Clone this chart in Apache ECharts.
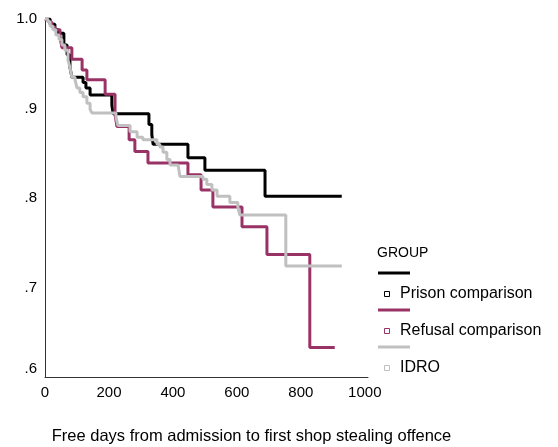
<!DOCTYPE html>
<html>
<head>
<meta charset="utf-8">
<script src="https://cdn.jsdelivr.net/npm/echarts@6/dist/echarts.min.js"></script>
<style>
	html, body { margin: 0; padding: 0; background: #fff; }
	#chart { width: 558px; height: 447px; }
</style>
</head>
<body>
<div id="chart"></div>
<script>
// 分组名称
var groupNames = ['Prison comparison', 'Refusal comparison', 'IDRO'];
var groupColors = ['#000000', '#993366', '#c0c0c0'];

// Kaplan-Meier 数据 [天数, 生存率]
var prisonData = [
	[0, 1.0], [16, 0.994], [31, 0.988], [41, 0.984], [59, 0.971], [69, 0.960],
	[78, 0.946], [84, 0.935], [119, 0.929], [128, 0.923], [141, 0.915],
	[209, 0.904], [213, 0.894], [325, 0.882], [334, 0.871], [338, 0.860],
	[447, 0.845], [500, 0.831], [688, 0.802], [928, 0.802]
];
var refusalData = [
	[0, 1.0], [6, 0.998], [9, 0.996], [22, 0.991], [31, 0.988], [47, 0.980],
	[53, 0.968], [84, 0.955], [116, 0.943], [131, 0.932], [188, 0.916],
	[219, 0.893], [225, 0.880], [263, 0.865], [281, 0.852], [322, 0.839],
	[447, 0.826], [488, 0.809], [525, 0.790], [616, 0.768], [694, 0.737],
	[828, 0.633], [906, 0.633]
];
var idroData = [
	[0, 1.0], [9, 0.997], [16, 0.992], [25, 0.988], [34, 0.982], [44, 0.977],
	[53, 0.971], [62, 0.965], [72, 0.954], [78, 0.946], [84, 0.935], [94, 0.932],
	[100, 0.923], [109, 0.918], [119, 0.913], [131, 0.906], [141, 0.899],
	[147, 0.895], [222, 0.890], [228, 0.881], [266, 0.874], [288, 0.868],
	[306, 0.865], [350, 0.860], [359, 0.857], [369, 0.851], [381, 0.843],
	[391, 0.837], [416, 0.835], [422, 0.824], [494, 0.821], [506, 0.815],
	[522, 0.809], [538, 0.802], [578, 0.795], [603, 0.790], [609, 0.781],
	[753, 0.724], [928, 0.724]
];
var seriesData = [prisonData, refusalData, idroData];

var xAxisTitle = 'Free days from admission to first shop stealing offence';
var legendTitle = 'GROUP';

var font = 'Arial, "Liberation Sans", sans-serif';

var myChart = echarts.init(document.getElementById('chart'));

var series = [];
for (var i = 0; i < groupNames.length; i++) {
	series.push({
		name: groupNames[i],
		type: 'line',
		step: 'end',
		data: seriesData[i],
		symbol: 'none',
		silent: true,
		lineStyle: { color: groupColors[i], width: 3 }
	});
}

// 图例（SPSS 风格：线条 + 小方块 + 文字）
var graphics = [{
	type: 'text',
	x: 377, y: 253,
	style: { text: legendTitle, font: '14px ' + font, fill: '#000', verticalAlign: 'middle' }
}];
for (var j = 0; j < groupNames.length; j++) {
	var ly = 273 + j * 37;
	graphics.push({
		type: 'line',
		shape: { x1: 378, y1: ly, x2: 410, y2: ly },
		style: { stroke: groupColors[j], lineWidth: 3 }
	});
	graphics.push({
		type: 'rect',
		shape: { x: 384.5, y: ly + 18.5, width: 5, height: 5 },
		style: { fill: '#fff', stroke: groupColors[j], lineWidth: 1 }
	});
	graphics.push({
		type: 'text',
		x: 400, y: ly + 21,
		style: { text: groupNames[j], font: '16px ' + font, fill: '#000', verticalAlign: 'middle' }
	});
}

var option = {
	backgroundColor: '#fff',
	animation: false,
	grid: { left: 45, right: 190, top: 19, bottom: 70, outerBoundsMode: 'none' },
	xAxis: {
		type: 'value',
		min: 0,
		max: 1010,
		interval: 200,
		name: xAxisTitle,
		nameLocation: 'middle',
		nameGap: 51,
		nameTextStyle: { fontFamily: font, fontSize: 16.5, color: '#000', padding: [0, 0, 0, 90] },
		axisLine: { show: true, lineStyle: { color: '#333', width: 1 } },
		axisTick: { show: false },
		splitLine: { show: false },
		axisLabel: {
			showMaxLabel: false,
			margin: 8,
			fontFamily: font,
			fontSize: 15,
			color: '#000',
			formatter: function(v) { return String(v); }
		}
	},
	yAxis: {
		type: 'value',
		min: 0.6,
		max: 1.0,
		interval: 0.1,
		axisLine: { show: true, lineStyle: { color: '#333', width: 1 } },
		axisTick: { show: false },
		splitLine: { show: false },
		axisLabel: {
			margin: 8,
			fontFamily: font,
			fontSize: 15,
			color: '#000',
			formatter: function(v) {
				var r = Math.round(v * 10) / 10;
				if (r === 1) return '1.0';
				var s = r.toFixed(1).replace(/^0/, '');
				if (r === 0.6) return '{low|' + s + '}';
				return s;
			},
			rich: {
				low: { fontFamily: font, fontSize: 15, color: '#000', padding: [0, 0, 16, 0] }
			}
		}
	},
	graphic: graphics,
	series: series
};
myChart.setOption(option);
</script>
</body>
</html>
